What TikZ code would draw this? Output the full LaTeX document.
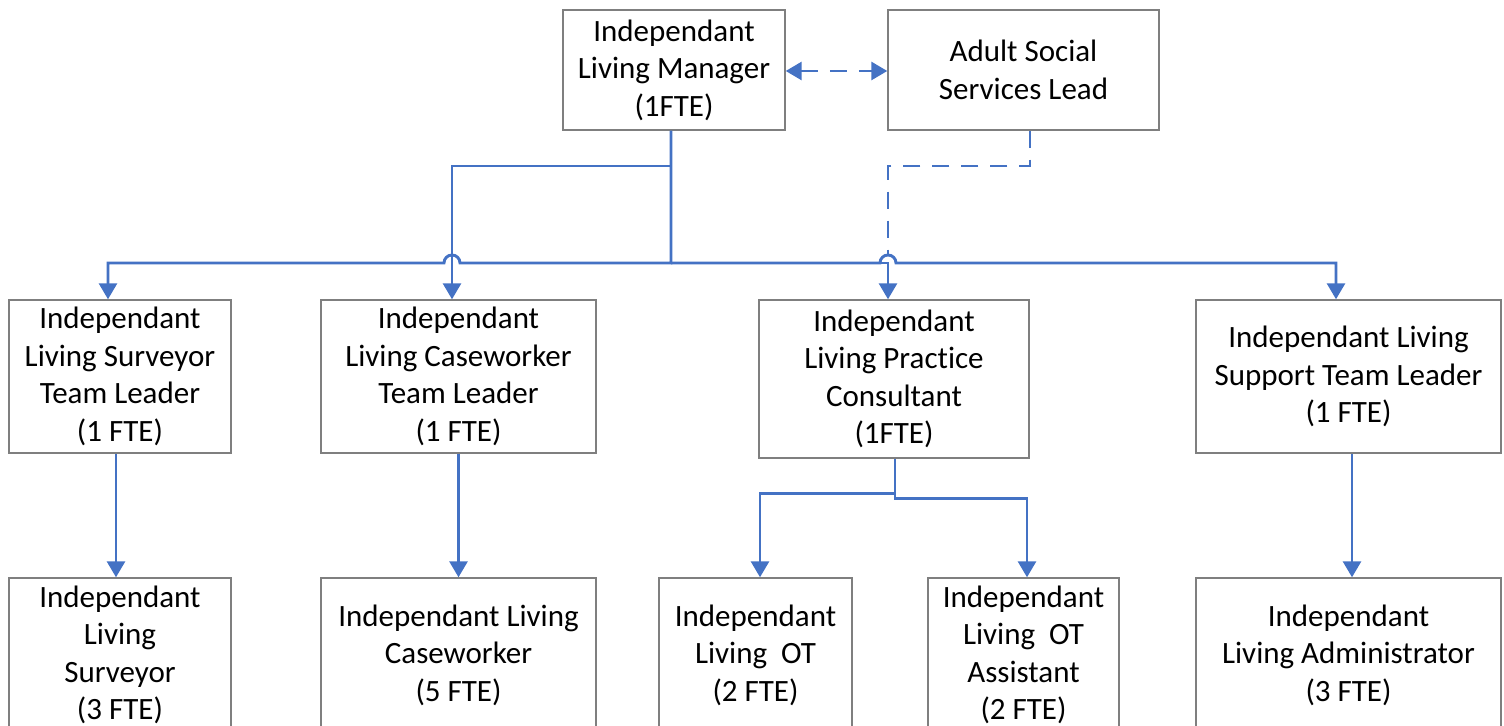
\documentclass[tikz,border=0pt]{standalone}
\usepackage{fontspec}
\setmainfont{Carlito}[Ligatures={NoCommon,NoContextual}]
\usetikzlibrary{arrows.meta}
\definecolor{linkblue}{HTML}{4472C4}
\definecolor{boxgray}{HTML}{7F7F7F}
\begin{document}
\begin{tikzpicture}[x=0.5pt,y=-0.5pt,
  box/.style={draw=boxgray, line width=0.7pt, fill=white, align=center,
    inner sep=0pt, font=\fontsize{15.5}{18.75}\selectfont},
  plain/.style={draw=linkblue, line width=1.45pt},
  tip/.tip={Triangle[width=9pt,length=8pt]},
  link/.style={plain, -tip},
  dashes/.style={dash pattern=on 8.5pt off 6pt}]
\useasboundingbox (0,0) rectangle (1504,726);
\clip (0,0) rectangle (1504,726);

% top row
\node[box, minimum width=111pt, minimum height=60pt] (mgr) at (674,70)
  {Independant\\Living Manager\\(1FTE)};
\node[box, minimum width=135.5pt, minimum height=60pt] (asl) at (1023.5,70)
  {Adult Social\\Services Lead};

% team leaders
\node[box, minimum width=111pt, minimum height=76.5pt] (stl) at (120,376.5)
  {Independant\\Living Surveyor\\Team Leader\\(1 FTE)};
\node[box, minimum width=137.5pt, minimum height=76.5pt] (ctl) at (458.5,376.5)
  {Independant\\Living Caseworker\\Team Leader\\(1 FTE)};
\node[box, minimum width=135pt, minimum height=79pt] (pc) at (894,379)
  {Independant\\Living Practice\\Consultant\\(1FTE)};
\node[box, minimum width=152.5pt, minimum height=76.5pt] (sptl) at (1348.5,376.5)
  {Independant Living\\Support Team Leader\\(1 FTE)};

% staff
\node[box, minimum width=111pt, minimum height=77pt] (sv) at (120,655)
  {Independant\\Living\\Surveyor\\(3 FTE)};
\node[box, minimum width=137.5pt, minimum height=77pt] (cw) at (458.5,655)
  {Independant Living\\Caseworker\\(5 FTE)};
\node[box, minimum width=96.5pt, minimum height=77pt] (ot) at (755.5,655)
  {Independant\\Living~~OT\\(2 FTE)};
\node[box, minimum width=95.5pt, minimum height=77pt] (ota) at (1023.5,655)
  {Independant\\Living~~OT\\Assistant\\(2 FTE)};
\node[box, minimum width=152.5pt, minimum height=77pt] (adm) at (1348.5,655)
  {Independant\\Living Administrator\\(3 FTE)};

% routing points
\coordinate (m0) at ([xshift=-1.5pt]mgr.south);
\coordinate (jct) at (671,263);
\coordinate (br) at (671,166);
\coordinate (busL) at (108,263);
\coordinate (hop1) at (452,263);
\coordinate (hop2) at (888,263);
\coordinate (busR) at (1336,263);
\coordinate (a0) at ([xshift=3.25pt]asl.south);
\coordinate (dbr) at (1030,166);

% manager to team leaders
\draw[link] (m0) -- (jct) -- ([xshift=4pt]hop1)
  arc[start angle=0,end angle=180,radius=4pt] -- (busL) -- (busL |- stl.north);
\draw[link] (m0) -- (br) -- (br -| hop1) -- (hop1 |- ctl.north);
\draw[link] (m0) -- (jct) -- (hop2) -- (hop2 |- pc.north);
\draw[link] (jct) -- ([xshift=-4pt]hop2)
  arc[start angle=180,end angle=0,radius=4pt] -- (busR) -- (busR |- sptl.north);

% dotted-line relationships
\draw[plain, dashes] (a0) -- (dbr) -- (dbr -| hop2) -- ([yshift=4pt]hop2);
\draw[plain, dashes, tip-tip] (mgr.east |- 0,71) -- (asl.west |- 0,71);

% team leaders to staff
\draw[link] ([xshift=-2pt]stl.south) -- ([xshift=-2pt]sv.north);
\draw[link] (ctl.south) -- (cw.north);
\draw[link] ([xshift=0.5pt]pc.south) -- ++(0,35) -| ([xshift=2.25pt]ot.north);
\draw[link] ([xshift=0.5pt]pc.south) -- ++(0,40) -| ([xshift=1.75pt]ota.north);
\draw[link] ([xshift=1.75pt]sptl.south) -- ([xshift=1.75pt]adm.north);
\end{tikzpicture}
\end{document}
